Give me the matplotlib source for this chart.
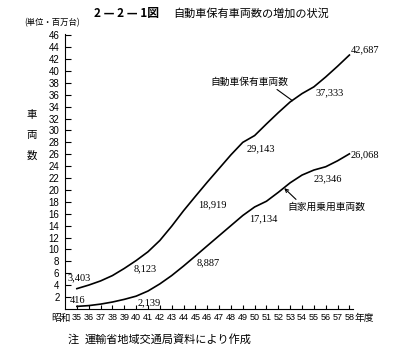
import numpy as np
import matplotlib
matplotlib.use("Agg")
import matplotlib.pyplot as plt

# Data (millions of vehicles, fiscal years Showa 35-58)
years = list(range(35, 59))
total_vehicles = [3.403, 4.0, 4.7, 5.6, 6.8, 8.123, 9.6, 11.5, 13.9, 16.5,
                  18.919, 21.3, 23.6, 25.9, 28.0, 29.143, 31.1, 33.0, 34.8,
                  36.2, 37.333, 39.0, 40.8, 42.687]
private_cars = [0.416, 0.55, 0.8, 1.15, 1.6, 2.139, 3.0, 4.2, 5.6, 7.2,
                8.887, 10.6, 12.3, 14.0, 15.7, 17.134, 18.1, 19.6, 21.2,
                22.5, 23.346, 23.9, 24.9, 26.068]
yticks = list(range(2, 47, 2))

jp = ['Noto Sans CJK JP', 'DejaVu Sans']
num = ['Liberation Sans', 'DejaVu Sans']
val = ['Liberation Serif', 'DejaVu Serif']
plt.rcParams['font.family'] = jp

fig = plt.figure(figsize=(4.09, 3.53), dpi=100)
ax = fig.add_axes([0.159, 0.125, 0.704, 0.780])

ax.plot(years, total_vehicles, color='black', lw=1.2)
ax.plot(years, private_cars, color='black', lw=1.2)

ax.set_xlim(34, 58.3)
ax.set_ylim(0, 46.3)
ax.spines['top'].set_visible(False)
ax.spines['right'].set_visible(False)
ax.set_yticks(yticks)
ax.set_yticklabels([str(t) for t in yticks], family=num, fontsize=7)
ax.set_xticks(years)
ax.set_xticklabels([str(y) for y in years], family=num, fontsize=6.5)
ax.tick_params(axis='y', direction='in', length=4, pad=4)
ax.tick_params(axis='x', direction='in', length=3, pad=3)

# value labels
lab = dict(fontsize=7.5, family=val, va='center')
ax.text(34.25, 5.2, '3,403', **lab)
ax.text(34.4, 1.4, '416', **lab)
ax.text(39.8, 6.7, '8,123', **lab)
ax.text(40.1, 1.0, '2,139', **lab)
ax.text(45.2, 17.5, '18,919', **lab)
ax.text(45.1, 7.7, '8,887', **lab)
ax.text(49.3, 27.0, '29,143', **lab)
ax.text(49.5, 15.1, '17,134', **lab)
ax.text(55.1, 36.3, '37,333', **lab)
ax.text(55.0, 21.8, '23,346', **lab)
ax.text(58.1, 43.6, '42,687', **lab)
ax.text(58.1, 25.9, '26,068', **lab)

# series names with leader lines
ax.annotate('自動車保有車両数', xy=(53.2, 35.0), xytext=(46.3, 38.2),
            fontsize=7, va='center',
            arrowprops=dict(arrowstyle='-', lw=0.8, color='black',
                            shrinkA=0, shrinkB=0,
                            relpos=(0.8, 0.0)))
ax.annotate('自家用乗用車両数', xy=(52.5, 20.3), xytext=(52.75, 17.1),
            fontsize=7, va='center',
            arrowprops=dict(arrowstyle='->', lw=0.8, color='black',
                            shrinkA=0, shrinkB=0, mutation_scale=6,
                            relpos=(0.15, 1.0)))

# surrounding text
fig.text(0.309, 0.962, '2 — 2 — 1図', ha='center', va='center',
         fontsize=8.5, weight='bold')
fig.text(0.423, 0.962, '自動車保有車両数の増加の状況', ha='left',
         va='center', fontsize=8)
fig.text(0.06, 0.935, '(単位・百万台)', ha='left', va='center', fontsize=6)
for i, ch in enumerate('車両数'):
    fig.text(0.078, 0.674 - i * 0.057, ch, ha='center', va='center',
             fontsize=7.5)
ax.text(34.45, -0.75, '昭和', ha='right', va='top', fontsize=7)
ax.text(58.45, -0.75, '年度', ha='left', va='top', fontsize=7)
fig.text(0.166, 0.037, '注', ha='left', va='center', fontsize=8)
fig.text(0.208, 0.037, '運輸省地域交通局資料により作成', ha='left',
         va='center', fontsize=8)

fig.savefig('out.png', dpi=100)
